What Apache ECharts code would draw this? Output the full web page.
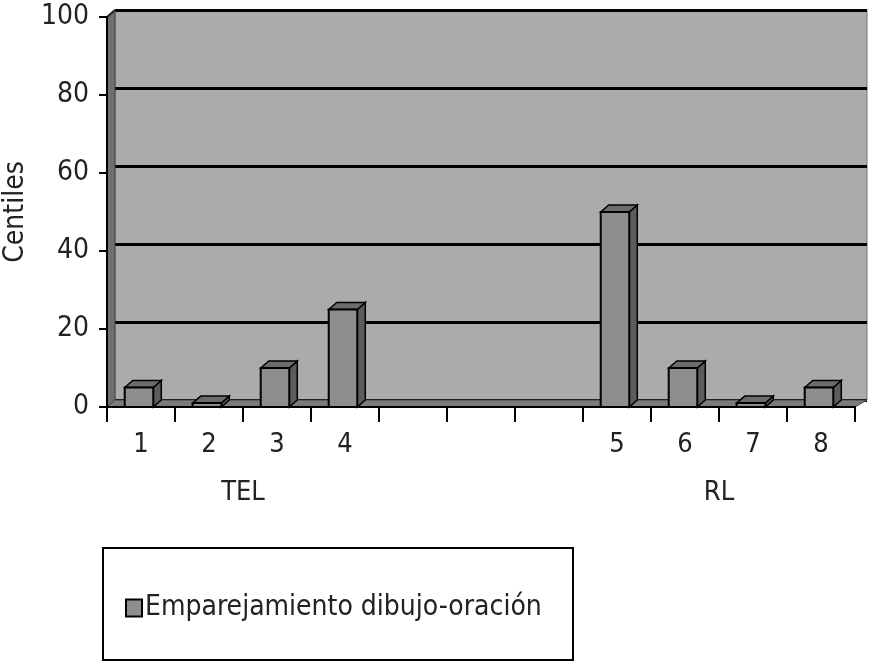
<!DOCTYPE html>
<html>
<head>
<meta charset="utf-8">
<script src="https://cdn.jsdelivr.net/npm/echarts@6/dist/echarts.min.js"></script>
<style>
  html, body { margin: 0; padding: 0; background: #fff; }
  #chart { width: 880px; height: 669px; }
</style>
</head>
<body>
<div id="chart"></div>
<script>
// categorias del eje x (3 huecos vacios entre los dos grupos)
let categories = ['1', '2', '3', '4', '', '', '', '5', '6', '7', '8']
// centiles de cada prueba
let centiles = [5, 1, 10, 25, null, null, null, 50, 10, 1, 5]
// etiquetas de grupo y cuantas categorias ocupa cada una
let groupNames = ['TEL', '', 'RL']
let groupSpans = [4, 3, 4]
let yTicks = [0, 20, 40, 60, 80, 100]
let seriesName = 'Emparejamiento dibujo-oración'

let font = '"Liberation Sans Narrow", "DejaVu Sans Condensed", "Roboto Condensed", sans-serif'

// centro de cada grupo en unidades de categoria
let groupCenters = {}
let acc = 0
groupSpans.forEach(function (n, i) {
  groupCenters[acc + n / 2] = groupNames[i]
  acc += n
})

// profundidad del efecto 3d
let dx = 8
let dy = -7

let myChart = echarts.init(document.getElementById('chart'))

let barData = []
centiles.forEach(function (v, i) {
  if (v !== null) barData.push([i, v])
})

let option = {
  animation: false,
  grid: [
    // grid delantero: ejes y barras
    { left: 107, right: 25, top: 17, bottom: 262, outerBoundsMode: 'none', containLabel: false },
    // pared del fondo desplazada
    { left: 107 + dx, right: 25 - dx - 4, top: 17 + dy, bottom: 262 - dy,
      outerBoundsMode: 'none', containLabel: false,
      show: true, backgroundColor: '#ababab', borderColor: '#777', borderWidth: 1 }
  ],
  graphic: [
    // pared izquierda
    {
      type: 'polygon', z: 1,
      shape: { points: [[107, 17], [107 + dx, 17 + dy], [107 + dx, 407 + dy], [107, 407]] },
      style: { fill: '#6f6f6f', stroke: '#444', lineWidth: 1 }
    },
    // suelo
    {
      type: 'polygon', z: 1,
      shape: { points: [[107, 407], [107 + dx, 407 + dy], [867, 407 + dy], [855, 407]] },
      style: { fill: '#7b7b7b', stroke: '#444', lineWidth: 1 }
    },
    // linea superior de la pared
    {
      type: 'line', z: 1,
      shape: { x1: 107, y1: 17, x2: 107 + dx, y2: 17 + dy },
      style: { stroke: '#222', lineWidth: 2 }
    },
    // caja de la leyenda
    {
      type: 'rect', z: 0,
      shape: { x: 103, y: 548, width: 470, height: 112 },
      style: { fill: '#fff', stroke: '#000', lineWidth: 2 }
    }
  ],
  legend: {
    left: 120,
    top: 589,
    itemWidth: 16,
    itemHeight: 17,
    itemGap: 6,
    icon: 'rect',
    itemStyle: { color: '#8e8e8e', borderColor: '#000', borderWidth: 2 },
    textStyle: { fontFamily: font, fontSize: 28, color: '#222', padding: [0, 0, 0, -2] },
    data: [seriesName]
  },
  xAxis: [
    {
      type: 'category',
      gridIndex: 0,
      data: categories,
      boundaryGap: true,
      axisLine: { lineStyle: { color: '#000', width: 2 } },
      axisTick: { show: true, interval: 0, length: 15, lineStyle: { color: '#000', width: 2 } },
      axisLabel: { interval: 0, margin: 24, fontFamily: font, fontSize: 27, color: '#222' },
      z: 5
    },
    // etiquetas de grupo TEL / RL
    {
      type: 'value',
      gridIndex: 0,
      position: 'bottom',
      min: 0,
      max: categories.length,
      interval: 0.5,
      axisLine: { show: false },
      axisTick: { show: false },
      splitLine: { show: false },
      axisLabel: {
        margin: 72,
        fontFamily: font,
        fontSize: 27,
        color: '#222',
        showMinLabel: true,
        showMaxLabel: true,
        formatter: function (v) { return groupCenters[v] || '' }
      }
    },
    {
      type: 'category',
      gridIndex: 1,
      data: categories,
      show: false
    }
  ],
  yAxis: [
    {
      type: 'value',
      gridIndex: 0,
      min: 0,
      max: 100,
      interval: 20,
      name: 'Centiles',
      nameLocation: 'middle',
      nameRotate: 90,
      nameGap: 77,
      nameTextStyle: { fontFamily: font, fontSize: 28, color: '#222' },
      axisLine: { show: true, lineStyle: { color: '#000', width: 2 } },
      axisTick: { show: true, length: 8, lineStyle: { color: '#000', width: 2 } },
      axisLabel: {
        margin: 18, fontFamily: font, fontSize: 28, color: '#222',
        formatter: function (v) { return yTicks.indexOf(v) >= 0 ? String(v) : '' }
      },
      splitLine: { show: false },
      z: 5
    },
    // lineas de la pared del fondo
    {
      type: 'value',
      gridIndex: 1,
      min: 0,
      max: 100,
      interval: 20,
      axisLine: { show: false },
      axisTick: { show: false },
      axisLabel: { show: false },
      splitLine: { show: true, lineStyle: { color: '#000', width: 3 } }
    }
  ],
  series: [
    {
      name: seriesName,
      type: 'custom',
      xAxisIndex: 0,
      yAxisIndex: 0,
      z: 4,
      itemStyle: { color: '#8e8e8e', borderColor: '#000', borderWidth: 2 },
      data: barData,
      renderItem: function (params, api) {
        let top = api.coord([api.value(0), api.value(1)])
        let base = api.coord([api.value(0), 0])
        let band = api.size([1, 0])[0]
        let w = band * 0.42
        let x0 = top[0] - w / 2 - 2
        let x1 = x0 + w
        let yt = top[1]
        let yb = base[1]
        return {
          type: 'group',
          children: [
            // cara lateral
            {
              type: 'polygon',
              shape: { points: [[x1, yt], [x1 + dx, yt + dy], [x1 + dx, yb + dy], [x1, yb]] },
              style: { fill: '#5c5c5c', stroke: '#000', lineWidth: 1.5 }
            },
            // cara superior
            {
              type: 'polygon',
              shape: { points: [[x0, yt], [x0 + dx, yt + dy], [x1 + dx, yt + dy], [x1, yt]] },
              style: { fill: '#6c6c6c', stroke: '#000', lineWidth: 1.5 }
            },
            // cara frontal
            {
              type: 'rect',
              shape: { x: x0, y: yt, width: w, height: yb - yt },
              style: { fill: '#8e8e8e', stroke: '#000', lineWidth: 2 }
            }
          ]
        }
      }
    }
  ]
}

myChart.setOption(option)
</script>
</body>
</html>
